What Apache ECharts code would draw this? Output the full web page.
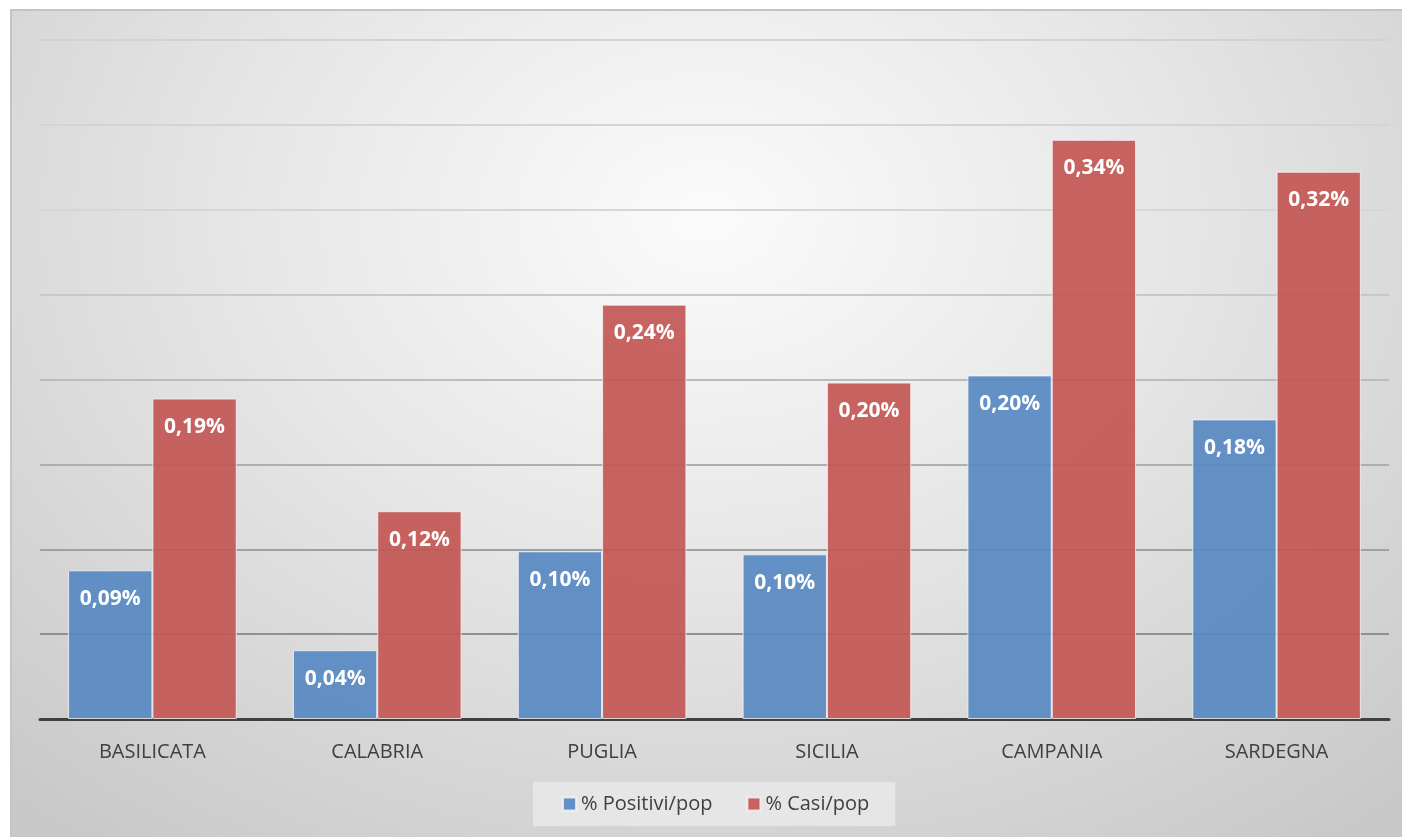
<!DOCTYPE html>
<html>
<head>
<meta charset="utf-8">
<script src="https://cdn.jsdelivr.net/npm/echarts@6/dist/echarts.min.js"></script>
<style>
  html, body { margin: 0; padding: 0; background: #ffffff; width: 1402px; height: 837px; overflow: hidden; }
  #frame {
    position: absolute; left: 10px; top: 9px; width: 1392px; height: 828px;
    box-sizing: border-box; border-top: 2px solid #c4c4c4; border-left: 2px solid #c4c4c4;
    background: radial-gradient(ellipse 75% 95% at 50% 25%, #fbfbfb 0%, #e6e6e6 45%, #c8c8c8 100%);
  }
  #chart { position: absolute; left: -2px; top: -2px; width: 1392px; height: 828px; }
</style>
</head>
<body>
<div id="frame"><div id="chart"></div></div>
<script>
const categories = ['BASILICATA', 'CALABRIA', 'PUGLIA', 'SICILIA', 'CAMPANIA', 'SARDEGNA'];
const positiviPop = [0.0876, 0.0405, 0.0988, 0.0970, 0.2024, 0.1765];
const casiPop = [0.1888, 0.1224, 0.2441, 0.1982, 0.3412, 0.3224];
const seriesNames = ['% Positivi/pop', '% Casi/pop'];

const fmt = v => v.toFixed(2).replace('.', ',') + '%';
const labelStyle = {
  show: true, position: 'insideTop', distance: 18,
  color: '#ffffff', fontFamily: 'Open Sans', fontWeight: 'bold', fontSize: 21,
  formatter: p => fmt(p.value)
};

const chart = echarts.init(document.getElementById('chart'));
chart.setOption({
  backgroundColor: 'transparent',
  animation: false,
  grid: { left: 30, right: 13, top: 31, bottom: 118, containLabel: false },
  legend: {
    bottom: 11, left: 523,
    data: seriesNames,
    backgroundColor: 'rgba(235,235,235,0.75)',
    padding: [12, 26, 12, 29],
    itemWidth: 13, itemHeight: 13, itemGap: 34,
    icon: 'rect',
    textStyle: { fontFamily: 'Open Sans', fontSize: 20, color: '#404040' }
  },
  xAxis: {
    type: 'category',
    data: categories,
    axisLine: { lineStyle: { color: '#404040', width: 3 } },
    axisTick: { show: false },
    axisLabel: { margin: 23, fontFamily: 'Open Sans', fontSize: 20, color: '#404040' }
  },
  yAxis: {
    type: 'value', min: 0, max: 0.4, interval: 0.05,
    axisLabel: { show: false },
    axisLine: { show: false }, axisTick: { show: false },
    splitLine: { lineStyle: { width: 2, color: ['#909090', '#909090', '#a0a0a0', '#aeaeae', '#bcbcbc', '#c8c8c8', '#d6d6d6', '#d4d4d4', '#d2d2d2'] } }
  },
  series: [
    {
      name: seriesNames[0], type: 'bar', data: positiviPop,
      barGap: '0%', barCategoryGap: '25%',
      itemStyle: { color: 'rgba(88,137,194,0.93)', borderColor: 'rgba(245,245,245,0.8)', borderWidth: 1 },
      label: labelStyle
    },
    {
      name: seriesNames[1], type: 'bar', data: casiPop,
      barGap: '0%', barCategoryGap: '25%',
      itemStyle: { color: 'rgba(195,88,86,0.93)', borderColor: 'rgba(245,245,245,0.8)', borderWidth: 1 },
      label: labelStyle
    }
  ]
});
</script>
</body>
</html>
